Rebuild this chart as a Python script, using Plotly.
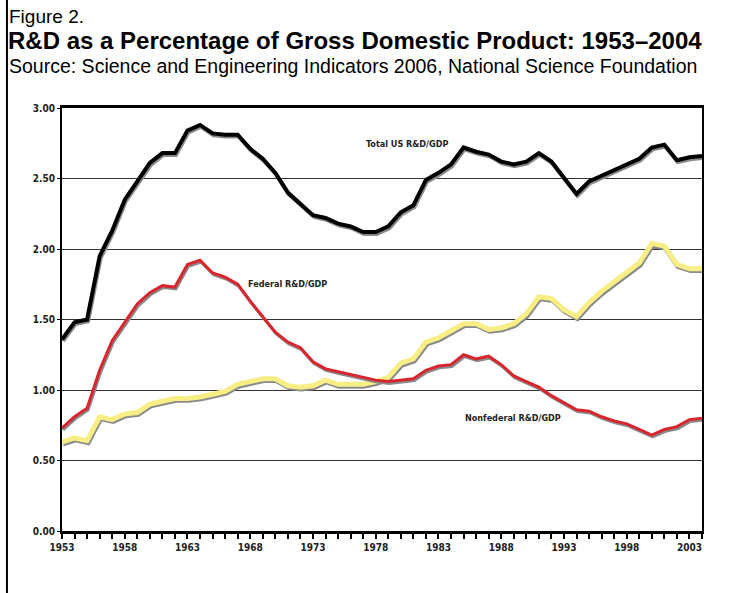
import plotly.graph_objects as go

years = list(range(1953, 2005))

total_rd = [1.36, 1.48, 1.50, 1.95, 2.13, 2.35, 2.48, 2.61, 2.68, 2.68,
            2.84, 2.88, 2.82, 2.81, 2.81, 2.71, 2.64, 2.54, 2.40, 2.32,
            2.24, 2.22, 2.18, 2.16, 2.12, 2.12, 2.16, 2.26, 2.31, 2.49,
            2.54, 2.60, 2.72, 2.69, 2.67, 2.62, 2.60, 2.62, 2.68, 2.62,
            2.50, 2.39, 2.48, 2.52, 2.56, 2.60, 2.64, 2.72, 2.74, 2.63,
            2.65, 2.66]

federal_rd = [0.73, 0.81, 0.87, 1.14, 1.35, 1.48, 1.61, 1.69, 1.74, 1.73,
              1.89, 1.92, 1.83, 1.80, 1.75, 1.63, 1.52, 1.41, 1.34, 1.30,
              1.20, 1.15, 1.13, 1.11, 1.09, 1.07, 1.06, 1.07, 1.08, 1.14,
              1.17, 1.18, 1.25, 1.22, 1.24, 1.18, 1.10, 1.06, 1.02, 0.96,
              0.91, 0.86, 0.85, 0.81, 0.78, 0.76, 0.72, 0.68, 0.72, 0.74,
              0.79, 0.80]

nonfederal_rd = [0.63, 0.66, 0.64, 0.81, 0.79, 0.83, 0.84, 0.90, 0.92, 0.94,
                 0.94, 0.95, 0.97, 0.99, 1.04, 1.06, 1.08, 1.08, 1.03, 1.02,
                 1.03, 1.07, 1.04, 1.04, 1.04, 1.06, 1.09, 1.19, 1.22, 1.34,
                 1.37, 1.42, 1.47, 1.47, 1.43, 1.44, 1.47, 1.54, 1.66, 1.65,
                 1.57, 1.52, 1.62, 1.70, 1.77, 1.83, 1.90, 2.04, 2.02, 1.89,
                 1.86, 1.86]

year_labels = list(range(1953, 2004, 5))
y_ticks = [0, 0.5, 1.0, 1.5, 2.0, 2.5, 3.0]

narrow = "Liberation Sans Narrow, Arial Narrow, DejaVu Sans Condensed, sans-serif"
sans = "Liberation Sans, Arial, sans-serif"
shadow_dy = 0.013  # drop shadow, about 2 px below each line

fig = go.Figure()

# series: data, line colour, width
series = [
    (nonfederal_rd, "#f7ef86", 5),
    (federal_rd, "#d9262e", 3),
    (total_rd, "#000000", 4),
]
for vals, color, width in series:
    fig.add_trace(go.Scatter(x=[yr + 0.08 for yr in years],
                             y=[v - shadow_dy for v in vals],
                             mode="lines", line=dict(color="#8a8a8a", width=width),
                             hoverinfo="skip", showlegend=False))
    fig.add_trace(go.Scatter(x=years, y=vals, mode="lines",
                             line=dict(color=color, width=width),
                             showlegend=False))

labels = [
    ("Total US R&D/GDP", 1980.5, 2.745),
    ("Federal R&D/GDP", 1971.0, 1.75),
    ("Nonfederal R&D/GDP", 1988.9, 0.80),
]
for text, lx, ly in labels:
    fig.add_annotation(x=lx, y=ly, text=text, showarrow=False,
                       font=dict(family=narrow, size=9, color="#222", weight="bold"))

# headings above the plot
fig.add_annotation(xref="paper", yref="paper", x=-0.086, y=1.245, text="Figure 2.",
                   xanchor="left", yanchor="top", showarrow=False,
                   font=dict(family=sans, size=19, color="#000"))
fig.add_annotation(xref="paper", yref="paper", x=-0.087, y=1.196,
                   text="<b>R&D as a Percentage of Gross Domestic Product: 1953\u20132004</b>",
                   xanchor="left", yanchor="top", showarrow=False,
                   font=dict(family=sans, size=24, color="#000"))
fig.add_annotation(xref="paper", yref="paper", x=-0.086, y=1.13,
                   text="Source: Science and Engineering Indicators 2006, National Science Foundation",
                   xanchor="left", yanchor="top", showarrow=False,
                   font=dict(family=sans, size=19.5, color="#000"))

# page frame line on the left
fig.add_shape(type="line", xref="paper", yref="paper", x0=-0.086, x1=-0.086,
              y0=-0.2, y1=1.3, line=dict(color="#000", width=2))

fig.update_xaxes(range=[1953, 2004], tickvals=year_labels, ticks="outside",
                 ticklen=5, tickwidth=2, tickcolor="#000",
                 minor=dict(dtick=1, tick0=1953, ticks="outside", ticklen=5,
                            tickwidth=2, tickcolor="#000"),
                 showline=True, linewidth=3, linecolor="#000", mirror=True,
                 showgrid=False, zeroline=False,
                 tickfont=dict(family=narrow, size=10, color="#222", weight="bold"))
fig.update_yaxes(range=[0, 3], tickvals=y_ticks, tickformat=".2f", ticks="outside",
                 ticklen=3, tickwidth=1, tickcolor="#000",
                 showline=True, linewidth=2, linecolor="#000", mirror=True,
                 showgrid=True, gridcolor="#333", gridwidth=1, zeroline=False,
                 tickfont=dict(family=narrow, size=10, color="#222", weight="bold"))

fig.update_layout(width=744, height=593, plot_bgcolor="white", paper_bgcolor="white",
                  margin=dict(l=62, r=42, t=108, b=62))

# drop the browser's default body margin so the figure sits at the page origin
fig.write_html("out.html", config={"displayModeBar": False},
               post_script="document.body.style.margin='0';")
